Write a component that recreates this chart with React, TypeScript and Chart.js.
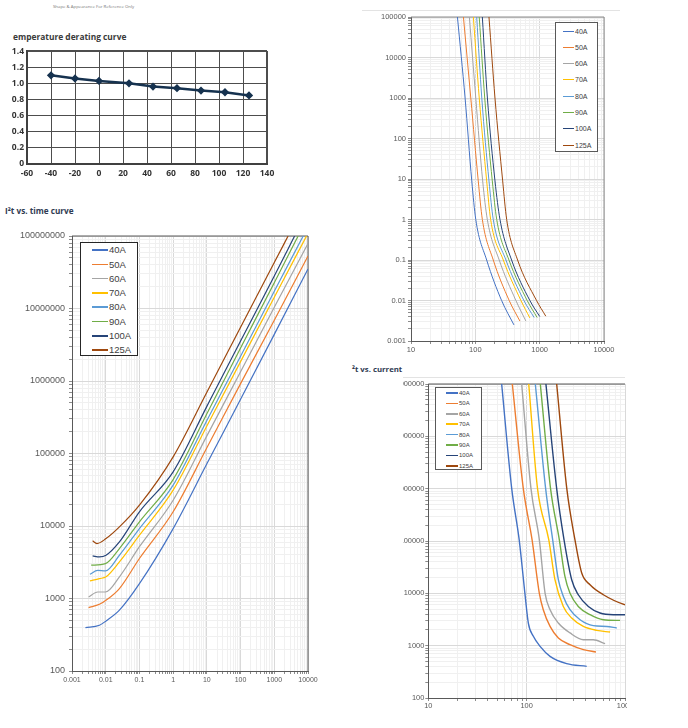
import { useEffect, useRef } from "react";
import { Chart, registerables } from "chart.js";

Chart.register(...registerables);

const FONT = "'Liberation Sans', Arial, sans-serif";
const TITLE_FONT = "'Open Sans', 'DejaVu Sans', sans-serif";

const seriesNames = ["40A", "50A", "60A", "70A", "80A", "90A", "100A", "125A"];
const seriesColors = ["#4472C4", "#ED7D31", "#A5A5A5", "#FFC000", "#5B9BD5", "#70AD47", "#264478", "#9E480E"];

// temperature derating curve
const tempC = [-40, -20, 0, 25, 45, 65, 85, 105, 125];
const deratingFactor = [1.1, 1.06, 1.03, 1.0, 0.96, 0.94, 0.91, 0.89, 0.85];

// I2t vs time: [t (s), I2t (A2s)]
const i2tTime40 = [[0.0025, 396], [0.0065, 427], [0.0102, 490], [0.0255, 690], [0.1, 1600], [1, 9200], [10, 72000], [100, 5.6e5], [1000, 4.4e6], [10000, 3.5e7]];
const i2tTime50 = [[0.0031, 748], [0.0065, 831], [0.0102, 945], [0.0255, 1370], [0.1, 3560], [1, 15700], [10, 1.2e5], [100, 9.2e5], [1000, 6.9e6], [10000, 5.3e7]];
const i2tTime60 = [[0.0031, 1050], [0.0058, 1230], [0.0098, 1230], [0.0255, 1990], [0.1, 5180], [1, 22700], [10, 1.75e5], [100, 1.34e6], [1000, 1.04e7], [10000, 7.9e7]];
const i2tTime70 = [[0.0034, 1750], [0.0065, 1880], [0.0102, 1990], [0.0255, 3200], [0.1, 7460], [1, 31200], [10, 2.4e5], [100, 1.85e6], [1000, 1.43e7], [9060, 1e8]];
const i2tTime80 = [[0.0034, 2160], [0.0058, 2450], [0.0098, 2400], [0.0255, 3950], [0.1, 9230], [1, 36600], [10, 2.86e5], [100, 2.2e6], [1000, 1.73e7], [7200, 1e8]];
const i2tTime90 = [[0.0037, 2880], [0.0098, 3030], [0.0255, 4890], [0.1, 11400], [1, 43700], [10, 3.53e5], [100, 2.85e6], [1000, 2.27e7], [5100, 1e8]];
const i2tTime100 = [[0.0041, 3870], [0.0065, 3750], [0.0102, 3950], [0.0255, 6030], [0.1, 15700], [1, 55800], [10, 4.47e5], [100, 3.56e6], [1000, 2.8e7], [4000, 1e8]];
const i2tTime125 = [[0.0041, 6240], [0.0055, 5730], [0.0102, 6710], [0.0255, 9730], [0.1, 19400], [1, 90000], [10, 7.0e5], [100, 5.5e6], [1000, 4.3e7], [2570, 1e8]];

// time vs current: [I (A), t (s)]
const timeCur40 = [[52.7, 1e5], [69.3, 1000], [88, 9], [101.6, 1], [150, 0.1], [256, 0.01], [398, 0.0025]];
const timeCur50 = [[65.3, 1e5], [85, 1000], [111, 9], [128.5, 1], [190, 0.1], [336, 0.01], [493, 0.0031]];
const timeCur60 = [[80.8, 1e5], [101.6, 1000], [130, 9], [153.6, 1], [235, 0.1], [427, 0.01], [611, 0.0031]];
const timeCur70 = [[93.2, 1e5], [115, 1000], [150, 9], [173, 1], [272, 0.1], [511, 0.01], [705, 0.0037]];
const timeCur80 = [[105, 1e5], [126, 1000], [163, 9], [190, 1], [299, 0.1], [569, 0.01], [820, 0.0038]];
const timeCur90 = [[115, 1e5], [140, 1000], [183.5, 9], [215, 1], [333, 0.1], [640, 0.01], [914, 0.0038]];
const timeCur100 = [[128.5, 1e5], [154, 1000], [202, 9], [241.6, 1], [366, 0.1], [704, 0.01], [1004, 0.004]];
const timeCur125 = [[163, 1e5], [202, 1000], [266, 9], [307, 1], [454, 0.1], [894, 0.01], [1245, 0.0041]];

// I2t vs current: [I (A), I2t (A2s)]
const i2tCur40 = [[55.7, 1e8], [70.5, 1e6], [84, 1.05e5], [96, 1e4], [104, 2710], [117, 1510], [137, 970], [173, 625], [255, 453], [408, 403]];
const i2tCur50 = [[71.5, 1e8], [92.5, 1e6], [113.6, 1.05e5], [134.6, 1e4], [147.6, 4860], [173, 2330], [210, 1400], [276, 1045], [377, 840], [507, 757]];
const i2tCur60 = [[89, 1e8], [110.7, 1e6], [134.6, 1.05e5], [154, 1e4], [173, 4860], [210, 2710], [276, 1750], [377, 1300], [476, 1300], [627, 1090]];
const i2tCur70 = [[105, 1e8], [129, 1e6], [168, 1.05e5], [194, 18200], [236, 5620], [287, 3370], [377, 2330], [516, 1960], [705, 1820]];
const i2tCur80 = [[122.5, 1e8], [156, 1e6], [184, 1.05e5], [210, 18200], [236, 8730], [276, 4860], [349, 3130], [476, 2410], [652, 2330], [824, 2180]];
const i2tCur90 = [[137.7, 1e8], [175, 1e6], [215, 1.05e5], [245, 21000], [276, 1e4], [335, 5620], [441, 3910], [602, 3130], [891, 3040]];
const i2tCur100 = [[157, 1e8], [202, 1e6], [240, 1.05e5], [287, 18200], [335, 9400], [424, 5620], [557, 4210], [760, 3910], [1000, 3910]];
const i2tCur125 = [[202, 1e8], [256, 1e6], [310, 1.05e5], [363, 24400], [441, 14600], [602, 9400], [1000, 6050], [1230, 5700]];

const i2tTimeSeries = [i2tTime40, i2tTime50, i2tTime60, i2tTime70, i2tTime80, i2tTime90, i2tTime100, i2tTime125];
const timeCurSeries = [timeCur40, timeCur50, timeCur60, timeCur70, timeCur80, timeCur90, timeCur100, timeCur125];
const i2tCurSeries = [i2tCur40, i2tCur50, i2tCur60, i2tCur70, i2tCur80, i2tCur90, i2tCur100, i2tCur125];

const isDecade = (v: number) => Math.abs(Math.log10(v) - Math.round(Math.log10(v))) < 1e-6;

function logTicks(min: number, max: number) {
  const out: { value: number }[] = [];
  for (let e = Math.round(Math.log10(min)); e <= Math.round(Math.log10(max)); e++) {
    for (let m = 1; m <= 9; m++) {
      const v = Number((m * Math.pow(10, e)).toPrecision(6));
      if (v >= min * 0.999 && v <= max * 1.001) out.push({ value: v });
    }
  }
  return out;
}

function frame(sides: string, color: string) {
  return {
    id: "frame",
    beforeDatasetsDraw(chart: any) {
      const { ctx, chartArea: a } = chart;
      ctx.save();
      ctx.strokeStyle = color;
      ctx.lineWidth = 1;
      ctx.beginPath();
      if (sides.includes("t")) {
        ctx.moveTo(a.left, a.top);
        ctx.lineTo(a.right, a.top);
      }
      if (sides.includes("r")) {
        ctx.moveTo(a.right, a.top);
        ctx.lineTo(a.right, a.bottom);
      }
      ctx.stroke();
      ctx.restore();
    },
  };
}

function logAxis(min: number, max: number, size: number, vertical: boolean, font: number, pad: number) {
  return {
    type: "logarithmic",
    min,
    max,
    afterBuildTicks: (s: any) => {
      s.ticks = logTicks(min, max);
    },
    afterFit: (s: any) => {
      if (vertical) s.width = size;
      else s.height = size;
    },
    grid: {
      color: (c: any) => (c.tick && isDecade(c.tick.value) ? "#d9d9d9" : "#f0f0f0"),
      tickColor: "#8c8c8c",
      tickLength: 3,
    },
    border: { color: "#595959", width: 1 },
    ticks: {
      autoSkip: false,
      maxRotation: 0,
      minRotation: 0,
      padding: pad,
      color: "#595959",
      font: { size: font, family: FONT },
      callback: (v: any) => (isDecade(Number(v)) ? String(Number(v)) : ""),
    },
  };
}

function seriesDatasets(list: number[][][], width: number) {
  return list.map((pts, i) => ({
    label: seriesNames[i],
    data: pts.map(([x, y]) => ({ x, y })),
    borderColor: seriesColors[i],
    backgroundColor: seriesColors[i],
    borderWidth: width,
    pointRadius: 0,
    cubicInterpolationMode: "monotone",
    fill: false,
  }));
}

function ChartBox({ style, build }: { style: any; build: () => any }) {
  const canvasRef = useRef<HTMLCanvasElement>(null);
  useEffect(() => {
    if (!canvasRef.current) return;
    const chart = new Chart(canvasRef.current, build());
    return () => chart.destroy();
  }, []);
  return (
    <div style={{ position: "absolute", ...style }}>
      <canvas ref={canvasRef} />
    </div>
  );
}

function Legend(p: { left: number; top: number; width: number; height: number; firstY: number; step: number; lineX: number; lineW: number; lineH: number; textX: number; font: number; border: string }) {
  return (
    <div style={{ position: "absolute", left: p.left, top: p.top, width: p.width, height: p.height, border: `1px solid ${p.border}`, boxSizing: "border-box", background: "#fff" }}>
      {seriesNames.map((n, i) => (
        <div key={n}>
          <div style={{ position: "absolute", left: p.lineX, top: p.firstY + i * p.step - p.lineH / 2, width: p.lineW, height: p.lineH, background: seriesColors[i] }} />
          <div style={{ position: "absolute", left: p.textX, top: p.firstY + i * p.step - p.font / 2, fontSize: p.font, lineHeight: `${p.font}px`, fontFamily: FONT, color: "#404040", whiteSpace: "nowrap" }}>{n}</div>
        </div>
      ))}
    </div>
  );
}

const baseOptions = {
  animation: false,
  responsive: true,
  maintainAspectRatio: false,
  plugins: { legend: { display: false }, tooltip: { enabled: false } },
};

function deratingConfig() {
  const tickFont = { size: 8.5, weight: "bold", family: TITLE_FONT };
  return {
    type: "line",
    data: {
      datasets: [
        {
          data: tempC.map((x, i) => ({ x, y: deratingFactor[i] })),
          borderColor: "#16324f",
          backgroundColor: "#16324f",
          borderWidth: 2.5,
          pointStyle: "rectRot",
          pointRadius: 2.4,
          tension: 0,
        },
      ],
    },
    options: {
      ...baseOptions,
      layout: { padding: { top: 6, right: 18, left: 0, bottom: 0 } },
      scales: {
        x: {
          type: "linear",
          min: -60,
          max: 140,
          afterFit: (s: any) => (s.height = 16),
          grid: { color: "#4d4d4d", drawTicks: false, lineWidth: (c: any) => (c.tick && c.tick.value === 140 ? 2 : 1) },
          border: { color: "#404040", width: 2 },
          ticks: { stepSize: 20, padding: 4, maxRotation: 0, color: "#333", font: tickFont },
        },
        y: {
          min: 0,
          max: 1.4,
          afterFit: (s: any) => (s.width = 27),
          grid: { color: "#4d4d4d", drawTicks: false, lineWidth: (c: any) => (c.tick && Math.abs(c.tick.value - 1.4) < 1e-6 ? 2 : 1) },
          border: { color: "#404040", width: 2 },
          ticks: { stepSize: 0.2, padding: 3, color: "#333", font: tickFont },
        },
      },
    },
  };
}

function i2tTimeConfig() {
  return {
    type: "line",
    data: { datasets: seriesDatasets(i2tTimeSeries, 1.2) },
    options: {
      ...baseOptions,
      layout: { padding: { top: 10, right: 12, left: 0, bottom: 0 } },
      scales: {
        x: logAxis(0.001, 10000, 20, false, 7, 2),
        y: logAxis(100, 1e8, 72, true, 9, 4),
      },
    },
    plugins: [frame("tr", "#595959")],
  };
}

function timeCurConfig() {
  return {
    type: "line",
    data: { datasets: seriesDatasets(timeCurSeries, 1) },
    options: {
      ...baseOptions,
      layout: { padding: { top: 7, right: 16, left: 0, bottom: 0 } },
      scales: {
        x: logAxis(10, 10000, 13, false, 7.5, 1),
        y: logAxis(0.001, 100000, 41, true, 7.5, 2),
      },
    },
    plugins: [frame("tr", "#8c8c8c")],
  };
}

function i2tCurConfig() {
  return {
    type: "line",
    data: { datasets: seriesDatasets(i2tCurSeries, 1.4) },
    options: {
      ...baseOptions,
      layout: { padding: { top: 6, right: 15, left: 0, bottom: 0 } },
      scales: {
        x: logAxis(10, 1000, 14, false, 7.4, 1),
        y: logAxis(100, 1e8, 68.3, true, 7.4, 1),
      },
    },
    plugins: [frame("t", "#595959")],
  };
}

const titleStyle = { position: "absolute", fontFamily: TITLE_FONT, fontWeight: "bold", whiteSpace: "nowrap", lineHeight: 1 } as any;

export default function App() {
  return (
    <div style={{ position: "absolute", left: 0, top: 0, width: 688, height: 728, background: "#fff", overflow: "hidden" }}>
      <div style={{ ...titleStyle, left: 53, top: 4, fontSize: 4.3, fontWeight: "normal", color: "#777" }}>Shape &amp; Appearance For Reference Only</div>
      <div style={{ ...titleStyle, left: 13, top: 33, fontSize: 8.4, color: "#3a3a3a" }}>emperature derating curve</div>
      <ChartBox style={{ left: 0, top: 43, width: 285, height: 137 }} build={deratingConfig} />

      <div style={{ ...titleStyle, left: 5, top: 207, fontSize: 8.2, color: "#2f3b52" }}>I²t vs. time curve</div>
      <ChartBox style={{ left: 0, top: 226, width: 320, height: 465 }} build={i2tTimeConfig} />
      <Legend left={80} top={242} width={58} height={114} firstY={7} step={14.3} lineX={11} lineW={16} lineH={1.5} textX={28} font={9.5} border="#262626" />

      <div style={{ position: "absolute", left: 362, top: 10, width: 258, height: 1, background: "#e3e3e3" }} />
      <ChartBox style={{ left: 370, top: 10, width: 250, height: 344 }} build={timeCurConfig} />
      <Legend left={555} top={22} width={43} height={130} firstY={8} step={16.3} lineX={6.7} lineW={11.6} lineH={1} textX={19} font={7} border="#595959" />

      <div style={{ ...titleStyle, left: 352, top: 366, fontSize: 7.8, color: "#2f3b52" }}>²t vs. current</div>
      <div style={{ position: "absolute", left: 403, top: 377, width: 222, height: 1, background: "#e3e3e3" }} />
      <div style={{ position: "absolute", left: 403, top: 378, width: 224, height: 340, overflow: "hidden" }}>
        <ChartBox style={{ left: -43, top: 0, width: 280, height: 334 }} build={i2tCurConfig} />
        <Legend left={32} top={9} width={47} height={83} firstY={5} step={10.4} lineX={10} lineW={12} lineH={1.5} textX={23} font={6} border="#595959" />
      </div>
    </div>
  );
}
